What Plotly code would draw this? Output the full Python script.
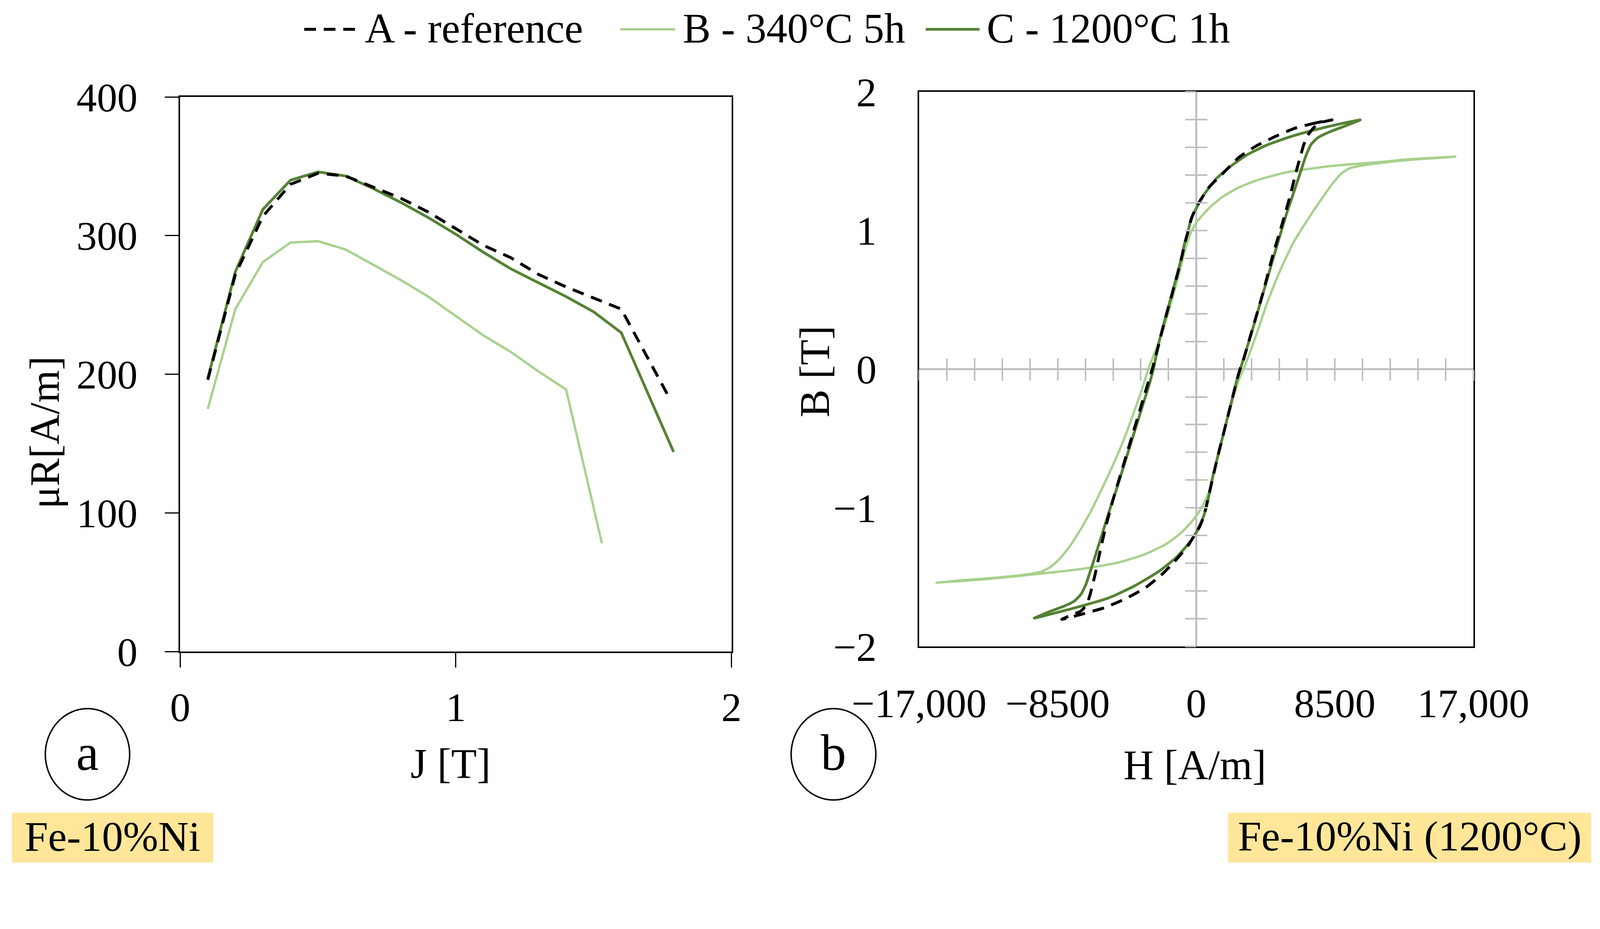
import plotly.graph_objects as go

# positions below are read in the reference's pixels (4386 x 2377);
# the page shows about 0.931 css px per photo px, so sizes are scaled by S
PW, PH = 4386, 2377
S = 0.931
FONT = "Liberation Serif"

# (a) relative permeability vs polarisation
J_A = [0.1, 0.2, 0.3, 0.4, 0.5, 0.6, 0.7, 0.8, 0.9, 1.0, 1.1, 1.2, 1.3, 1.4, 1.5, 1.6, 1.78]
MU_A = [196, 272, 314, 337, 345, 343, 335, 327, 317, 305, 293, 284, 272, 263, 255, 247, 181]
J_B = [0.1, 0.2, 0.3, 0.4, 0.5, 0.6, 0.7, 0.8, 0.9, 1.0, 1.1, 1.2, 1.3, 1.4, 1.53]
MU_B = [175, 247, 281, 295, 296, 290, 279, 268, 256, 242, 228, 216, 202, 189, 78]
J_C = [0.1, 0.2, 0.3, 0.4, 0.5, 0.6, 0.7, 0.8, 0.9, 1.0, 1.1, 1.2, 1.3, 1.4, 1.5, 1.6, 1.79]
MU_C = [197, 274, 319, 340, 346, 343, 334, 324, 313, 301, 288, 276, 266, 256, 245, 230, 144]

# (b) hysteresis loops, descending branch then ascending branch
H_A = [8326, 7353, 6124, 4895, 3665, 2641, 1617, 797, 0, -312, -517, -722, -875, -1131, -1439,
       -1746, -2053, -2360, -2668, -3282, -3897, -4511, -5126, -5536, -5894, -6202, -6509, -6714,
       -7072, -7687, -8250,
       -7072, -5638, -4409, -3180, -2155, -1336, -516, 0, 183, 439, 695, 951, 1258, 1566, 1873,
       2180, 2488, 2692, 2846, 3358, 4075, 4690, 5304, 5765, 6124, 6380, 6585, 6841, 7251, 7763, 8326]
B_A = [1.798, 1.777, 1.741, 1.681, 1.609, 1.530, 1.410, 1.314, 1.169, 1.080, 0.985, 0.900, 0.815,
       0.695, 0.560, 0.430, 0.295, 0.150, 0.014, -0.227, -0.468, -0.709, -0.950, -1.130, -1.311,
       -1.480, -1.624, -1.697, -1.745, -1.775, -1.805,
       -1.769, -1.721, -1.660, -1.582, -1.486, -1.389, -1.275, -1.178, -1.142, -1.070, -0.950,
       -0.817, -0.660, -0.516, -0.371, -0.227, -0.082, 0.002, 0.048, 0.253, 0.542, 0.819, 1.060,
       1.253, 1.422, 1.530, 1.615, 1.687, 1.747, 1.783, 1.798]

H_B = [15957, 13294, 11245, 9709, 8172, 6636, 5612, 4587, 3563, 2539, 1514, 797, 0, -312, -568,
       -773, -1029, -1336, -1643, -2053, -2463, -2900, -3385, -3897, -4511, -5126, -5843, -6560,
       -7277, -7892, -8404, -8916, -9531, -10760, -12501, -14550, -15932,
       -13013, -9940, -6867, -4819, -3282, -1951, -1029, -414, 0, 388, 797, 1105, 1412, 1719, 2027,
       2334, 2641, 2949, 3665, 4383, 5100, 5919, 6739, 7558, 8275, 8889, 9402, 10221, 11757, 13806, 15957]
B_B = [1.533, 1.516, 1.494, 1.480, 1.464, 1.440, 1.422, 1.392, 1.356, 1.307, 1.235, 1.163, 1.057,
       0.988, 0.904, 0.819, 0.699, 0.566, 0.434, 0.277, 0.145, 0.014, -0.166, -0.335, -0.528,
       -0.697, -0.877, -1.046, -1.191, -1.299, -1.371, -1.425, -1.462, -1.486, -1.506, -1.524, -1.540,
       -1.516, -1.480, -1.438, -1.396, -1.341, -1.269, -1.191, -1.118, -1.058, -0.986, -0.883,
       -0.733, -0.576, -0.443, -0.311, -0.178, -0.070, 0.014, 0.241, 0.488, 0.699, 0.904, 1.061,
       1.205, 1.326, 1.410, 1.449, 1.470, 1.494, 1.516, 1.533]

H_C = [10067, 8809, 7170, 5736, 4302, 3073, 2049, 1229, 512, 0, -312, -517, -722, -875, -1131,
       -1439, -1746, -2053, -2360, -2600, -2873, -3385, -3897, -4409, -4921, -5331, -5741, -6099,
       -6355, -6560, -6765, -7072, -7482, -8096, -8916, -9940,
       -8404, -6867, -5331, -3794, -2258, -1234, -414, 0, 388, 592, 797, 1002, 1310, 1617, 1924,
       2231, 2539, 2744, 3461, 4178, 4895, 5509, 6021, 6431, 6739, 7046, 7455, 8172, 9197, 10067]
B_C = [1.798, 1.769, 1.723, 1.675, 1.615, 1.543, 1.458, 1.374, 1.265, 1.160, 1.085, 0.988, 0.904,
       0.819, 0.699, 0.566, 0.434, 0.301, 0.157, 0.015, -0.106, -0.299, -0.492, -0.685, -0.877,
       -1.022, -1.178, -1.311, -1.407, -1.480, -1.552, -1.624, -1.673, -1.709, -1.745, -1.796,
       -1.751, -1.703, -1.648, -1.564, -1.456, -1.359, -1.251, -1.178, -1.082, -1.010, -0.901,
       -0.781, -0.636, -0.492, -0.347, -0.202, -0.058, 0.015, 0.289, 0.579, 0.868, 1.109, 1.289,
       1.434, 1.543, 1.621, 1.669, 1.711, 1.757, 1.798]

NAMES = ["A - reference", "B - 340°C 5h", "C - 1200°C 1h"]
COLORS = ["black", "#A9D18E", "#548235"]

H_TICKS = [-17000, -8500, 0, 8500, 17000]
H_TICKTEXT = ["\u221217,000", "\u22128500", "0", "8500", "17,000"]
B_TICKS = [-2, -1, 0, 1, 2]
B_TICKTEXT = ["\u22122", "\u22121", "0", "1", "2"]


def px(x):
    return x / PW


def py(y):
    return 1 - y / PH


def sz(v):
    return v * S


DASH = "%dpx,%dpx" % (round(sz(32)), round(sz(22)))
DASHES = [DASH, "solid", "solid"]
WIDTHS = [sz(8), sz(6.5), sz(7.5)]

fig = go.Figure()

# draw order: B, C, then A on top
for i in [1, 2, 0]:
    jx, my = [(J_A, MU_A), (J_B, MU_B), (J_C, MU_C)][i]
    fig.add_trace(go.Scatter(x=jx, y=my, mode="lines", xaxis="x", yaxis="y",
                             line=dict(color=COLORS[i], width=WIDTHS[i], dash=DASHES[i]),
                             showlegend=False))
for i in [1, 2, 0]:
    hx, by = [(H_A, B_A), (H_B, B_B), (H_C, B_C)][i]
    fig.add_trace(go.Scatter(x=hx, y=by, mode="lines", xaxis="x2", yaxis="y2",
                             line=dict(color=COLORS[i], width=WIDTHS[i], dash=DASHES[i],
                                       shape="spline", smoothing=0.5),
                             showlegend=False))

# empty traces so the crossing tick axes get drawn
fig.add_trace(go.Scatter(x=[], y=[], xaxis="x3", yaxis="y3", showlegend=False))
fig.add_trace(go.Scatter(x=[], y=[], xaxis="x4", yaxis="y4", showlegend=False))

dom_a_x = [px(487), px(2003)]
dom_a_y = [py(1782), py(258)]
dom_b_x = [px(2519), px(4043)]
dom_b_y = [py(1768), py(244)]
mid_b_x = (dom_b_x[0] + dom_b_x[1]) / 2
mid_b_y = (dom_b_y[0] + dom_b_y[1]) / 2

tickfont = dict(family=FONT, size=sz(112), color="black")
box = dict(showline=True, linecolor="black", linewidth=sz(4), mirror=True,
           showgrid=False, tickfont=tickfont)
cross = dict(range=[-17000, 17000], tick0=0, dtick=1700, showticklabels=False, showline=False,
             showgrid=False, zeroline=False, ticklen=sz(30), tickwidth=sz(4), tickcolor="#BFBFBF")
cross_y = dict(range=[-2, 2], tick0=0, dtick=0.2, showticklabels=False, showline=False,
               showgrid=False, zeroline=False, ticklen=sz(30), tickwidth=sz(4), tickcolor="#BFBFBF")

fig.update_layout(
    width=round(PW * S), height=round(PH * S), autosize=False,
    margin=dict(l=0, r=0, t=0, b=0, pad=0, autoexpand=False),
    paper_bgcolor="white", plot_bgcolor="white",
    font=dict(family=FONT, color="black"),
    xaxis=dict(domain=dom_a_x, anchor="y", range=[0, 2], tickvals=[0, 1, 2],
               ticks="outside", ticklen=sz(40), tickwidth=sz(3), tickcolor="black",
               ticklabelstandoff=12, zeroline=False, **box),
    yaxis=dict(domain=dom_a_y, anchor="x", range=[0, 400], dtick=100,
               ticks="outside", ticklen=sz(38), tickwidth=sz(3), tickcolor="black",
               ticklabelstandoff=49, zeroline=False, **box),
    xaxis2=dict(domain=dom_b_x, anchor="y2", range=[-17000, 17000], tickvals=H_TICKS,
                ticktext=H_TICKTEXT, ticks="", ticklabelstandoff=52,
                zeroline=True, zerolinecolor="#BFBFBF", zerolinewidth=sz(5), **box),
    yaxis2=dict(domain=dom_b_y, anchor="x2", range=[-2, 2], tickvals=B_TICKS,
                ticktext=B_TICKTEXT, ticks="", ticklabelstandoff=84,
                zeroline=True, zerolinecolor="#BFBFBF", zerolinewidth=sz(5), **box),
    xaxis3=dict(overlaying="x2", anchor="free", position=mid_b_y, ticks="outside", **cross),
    yaxis3=dict(overlaying="y2", anchor="free", position=mid_b_x, ticks="outside", **cross_y),
    xaxis4=dict(overlaying="x2", anchor="free", position=mid_b_y, ticks="inside", **cross),
    yaxis4=dict(overlaying="y2", anchor="free", position=mid_b_x, ticks="inside", **cross_y),
)

ann = []
shapes = []

# axis titles
ann.append(dict(text="\u03bcR[A/m]", x=px(115), y=py(1180), textangle=-90, size=115))
ann.append(dict(text="J [T]", x=px(1231), y=py(2090), size=115))
ann.append(dict(text="B [T]", x=px(2232), y=py(1012), textangle=-90, size=115))
ann.append(dict(text="H [A/m]", x=px(3277), y=py(2094), size=115))

# legend built by hand so the line samples are long like in the original
leg_lines = [(828, 982), (1697, 1848), (2537, 2685)]
leg_text_x = [993, 1867, 2703]
for i in range(3):
    shapes.append(dict(type="line", xref="paper", yref="paper",
                       x0=px(leg_lines[i][0]), x1=px(leg_lines[i][1]), y0=py(72), y1=py(72),
                       line=dict(color=COLORS[i], width=WIDTHS[i], dash=DASHES[i])))
    ann.append(dict(text=NAMES[i], x=px(leg_text_x[i]), y=py(70), xanchor="left", size=115))

# panel letters in circles
for (x0, x1, letter) in [(116, 348, "a"), (2167, 2400, "b")]:
    shapes.append(dict(type="circle", xref="paper", yref="paper",
                       x0=px(x0), x1=px(x1), y0=py(2190), y1=py(1939),
                       line=dict(color="black", width=sz(4))))
    ann.append(dict(text=letter, x=px((x0 + x1) / 2), y=py(2060), size=140))

# yellow material labels
for (x0, x1, label) in [(24, 578, "Fe-10%Ni"), (3369, 4367, "Fe-10%Ni (1200°C)")]:
    shapes.append(dict(type="rect", xref="paper", yref="paper", layer="below",
                       x0=px(x0), x1=px(x1), y0=py(2362), y1=py(2225),
                       fillcolor="#FFE699", line=dict(width=0)))
    ann.append(dict(text=label, x=px((x0 + x1) / 2), y=py(2290), size=116))

for a in ann:
    size = a.pop("size")
    a.setdefault("xanchor", "center")
    a["yanchor"] = "middle"
    a["xref"] = "paper"
    a["yref"] = "paper"
    a["showarrow"] = False
    a["font"] = dict(family=FONT, color="black", size=sz(size))

fig.update_layout(annotations=ann, shapes=shapes)

fig.write_html("out.html")
